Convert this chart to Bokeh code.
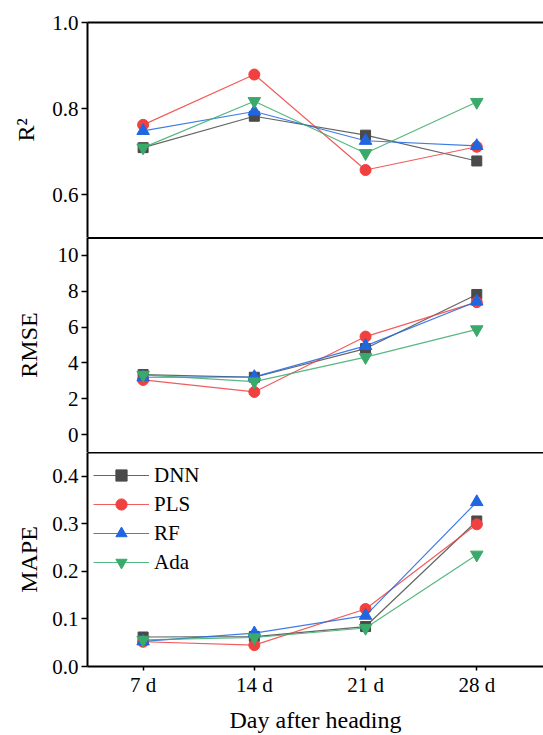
from bokeh.plotting import figure
from bokeh.layouts import column
from bokeh.models import (Range1d, LinearAxis, FixedTicker, PrintfTickFormatter,
                          Legend, LegendItem)
from bokeh.embed import file_html
from bokeh.resources import INLINE

# Sampling days after heading
days = ["7 d", "14 d", "21 d", "28 d"]

# Model names and colours
models = ["DNN", "PLS", "RF", "Ada"]
colors = ["#4a4a4a", "#f04040", "#1f66e0", "#3aaa6a"]
markers = ["square", "circle", "triangle", "inverted_triangle"]
marker_sizes = [10, 11, 12.5, 12.5]

# R² per model
r2_dnn = [0.709, 0.782, 0.738, 0.678]
r2_pls = [0.762, 0.879, 0.657, 0.711]
r2_rf = [0.748, 0.793, 0.725, 0.713]
r2_ada = [0.709, 0.817, 0.696, 0.815]

# RMSE per model
rmse_dnn = [3.35, 3.20, 4.80, 7.82]
rmse_pls = [3.05, 2.38, 5.47, 7.39]
rmse_rf = [3.20, 3.22, 4.95, 7.43]
rmse_ada = [3.33, 2.96, 4.32, 5.87]

# MAPE per model
mape_dnn = [0.062, 0.063, 0.084, 0.306]
mape_pls = [0.052, 0.045, 0.121, 0.299]
mape_rf = [0.053, 0.070, 0.107, 0.346]
mape_ada = [0.056, 0.061, 0.081, 0.235]

FONT = "Liberation Serif"
x = list(range(1, len(days) + 1))
x_range = Range1d(0.5, 4.6)


def make_panel(height, y_range, ticks, fmt, ylabel, series, border_top,
               border_bottom, top_line_width, label_standoff, with_xaxis=False):
    p = figure(width=543, height=height, x_range=x_range, y_range=y_range,
               output_backend="svg", toolbar_location=None,
               min_border_left=87, min_border_right=0,
               min_border_top=border_top, min_border_bottom=border_bottom,
               x_axis_location="below" if with_xaxis else None)
    p.outline_line_color = None
    p.background_fill_color = "white"
    p.border_fill_color = "white"
    for g in p.grid:
        g.visible = False

    yax = p.left[0]
    yax.ticker = FixedTicker(ticks=ticks)
    yax.formatter = PrintfTickFormatter(format=fmt)
    yax.axis_label = ylabel
    yax.axis_label_text_font = FONT
    yax.axis_label_text_font_size = "24px"
    yax.axis_label_text_font_style = "normal"
    yax.axis_label_text_color = "black"
    yax.axis_label_standoff = label_standoff
    yax.major_label_text_font = FONT
    yax.major_label_text_font_size = "21px"
    yax.major_label_text_color = "black"
    yax.major_label_standoff = 3
    yax.major_tick_out = 6
    yax.major_tick_in = 0
    yax.major_tick_line_width = 1.5
    yax.minor_tick_line_color = None
    yax.axis_line_width = 2
    yax.axis_line_color = "black"

    if with_xaxis:
        xax = p.below[0]
        xax.ticker = FixedTicker(ticks=x)
        xax.major_label_overrides = {xi: d for xi, d in zip(x, days)}
        xax.axis_label = "Day after heading"
        xax.axis_label_text_font = FONT
        xax.axis_label_text_font_size = "24px"
        xax.axis_label_text_font_style = "normal"
        xax.axis_label_text_color = "black"
        xax.axis_label_standoff = 7
        xax.major_label_text_font = FONT
        xax.major_label_text_font_size = "21px"
        xax.major_label_text_color = "black"
        xax.major_label_standoff = 2
        xax.major_tick_out = 4
        xax.major_tick_in = 0
        xax.major_tick_line_width = 1.5
        xax.minor_tick_line_color = None
        xax.axis_line_width = 2
        xax.axis_line_color = "black"

    # Top border line of the panel
    top = LinearAxis(ticker=FixedTicker(ticks=[]), axis_line_width=top_line_width,
                     axis_line_color="black", major_tick_line_color=None,
                     minor_tick_line_color=None, major_tick_out=0, major_tick_in=0,
                     major_label_standoff=0, major_label_text_font_size="0px")
    p.add_layout(top, "above")

    renderers = []
    for vals, c, m, s in zip(series, colors, markers, marker_sizes):
        ln = p.line(x, vals, line_color=c, line_width=1.2, line_alpha=0.85)
        sc = p.scatter(x, vals, marker=m, size=s, fill_color=c, line_color=c)
        renderers.append([ln, sc])
    return p, renderers


p_r2, _ = make_panel(237, Range1d(0.5, 1.0), [0.6, 0.8, 1.0], "%.1f", "R²",
                     [r2_dnn, r2_pls, r2_rf, r2_ada], 22, 0, 2, 10)
p_rmse, _ = make_panel(215, Range1d(-1, 11), [0, 2, 4, 6, 8, 10], "%d", "RMSE",
                       [rmse_dnn, rmse_pls, rmse_rf, rmse_ada], 0, 0, 3, 13)
p_mape, rends = make_panel(283, Range1d(0, 0.45), [0.0, 0.1, 0.2, 0.3, 0.4], "%.1f",
                           "MAPE", [mape_dnn, mape_pls, mape_rf, mape_ada],
                           0, 68, 2, 7, with_xaxis=True)

legend = Legend(items=[LegendItem(label=m, renderers=r) for m, r in zip(models, rends)],
                location=(6, 90), glyph_width=56, glyph_height=28, label_height=22,
                spacing=1, padding=0, margin=0, label_standoff=5,
                label_text_font=FONT, label_text_font_size="21px",
                label_text_color="black", border_line_color=None,
                background_fill_alpha=0)
p_mape.add_layout(legend)

layout = column(p_r2, p_rmse, p_mape, spacing=0)

with open("out.html", "w") as f:
    f.write(file_html(layout, INLINE))
